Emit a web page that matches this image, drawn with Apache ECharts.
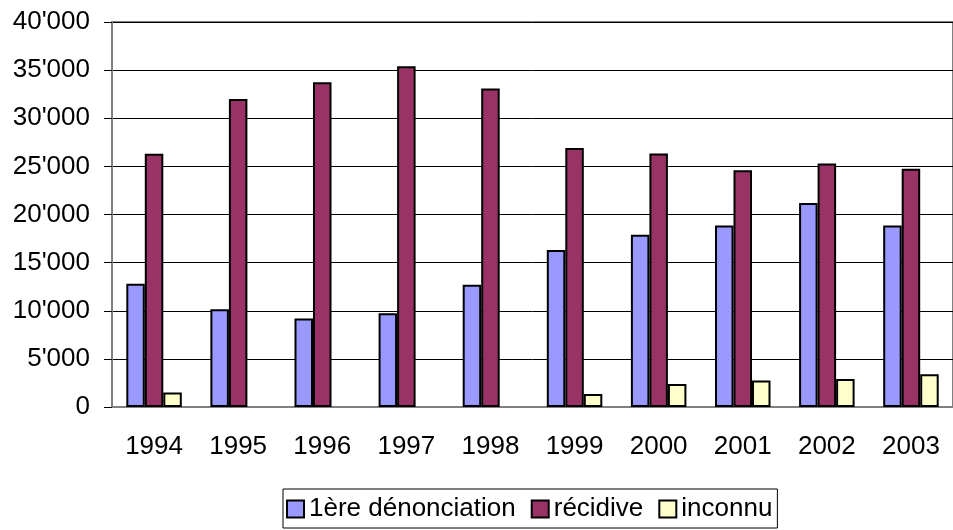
<!DOCTYPE html>
<html>
<head>
<meta charset="utf-8">
<script src="https://cdn.jsdelivr.net/npm/echarts@6/dist/echarts.min.js"></script>
<style>
  html, body { margin: 0; padding: 0; background: #fff; }
  #chart { width: 953px; height: 530px; }
</style>
</head>
<body>
<div id="chart"></div>
<script>
// années
var years = ['1994', '1995', '1996', '1997', '1998', '1999', '2000', '2001', '2002', '2003'];
// séries
var premiere = [12800, 10150, 9200, 9750, 12700, 16300, 17900, 18850, 21200, 18850];
var recidive = [26300, 32000, 33750, 35400, 33100, 26900, 26350, 24600, 25300, 24750];
var inconnu = [1500, null, null, null, null, 1350, 2400, 2750, 2900, 3400];
var yTickLabels = ['0', "5'000", "10'000", "15'000", "20'000", "25'000", "30'000", "35'000", "40'000"];

var FONT = 'Liberation Sans, Arial, sans-serif';

function barSeries(name, data, color){
	return {
		name : name,
		type : 'bar',
		data : data,
		barGap : '0%',
		barCategoryGap : '34%',
		itemStyle : {
			color : color,
			borderColor : '#000',
			borderWidth : 2
		}
	};
}

var myChart = echarts.init(document.getElementById('chart'));
var options = {
	animation : false,
	textStyle : { fontFamily : FONT, color : '#000' },
	grid : {
		left : 112, right : -1, top : 22, bottom : 123,
		show : true,
		borderColor : '#808080',
		borderWidth : 2
	},
	legend : {
		left : 283,
		top : 489,
		padding : [7, 5, 6, 3],
		itemWidth : 17,
		itemHeight : 17,
		itemGap : 15,
		icon : 'rect',
		borderColor : '#000',
		borderWidth : 1,
		textStyle : { fontSize : 26, color : '#000', fontFamily : FONT },
		data : ['1ère dénonciation', 'récidive', 'inconnu']
	},
	xAxis : {
		type : 'category',
		data : years,
		axisLine : { lineStyle : { color : '#808080', width : 2 } },
		axisTick : { length : 7, lineStyle : { color : '#000' } },
		axisLabel : { fontSize : 26, color : '#000', margin : 27, fontFamily : FONT }
	},
	yAxis : {
		type : 'value',
		min : 0,
		max : 40000,
		interval : 5000,
		axisLine : { show : true, lineStyle : { color : '#808080', width : 2 } },
		axisTick : { show : true, length : 8, lineStyle : { color : '#000' } },
		axisLabel : {
			fontSize : 26, color : '#000', margin : 22, fontFamily : FONT,
			formatter : function(v, i){ return yTickLabels[i]; }
		},
		splitLine : { lineStyle : { color : '#000', width : 1 } }
	},
	series : [
		barSeries('1ère dénonciation', premiere, '#9999FF'),
		barSeries('récidive', recidive, '#993366'),
		barSeries('inconnu', inconnu, '#FFFFCC')
	]
};
myChart.setOption(options);
</script>
</body>
</html>
